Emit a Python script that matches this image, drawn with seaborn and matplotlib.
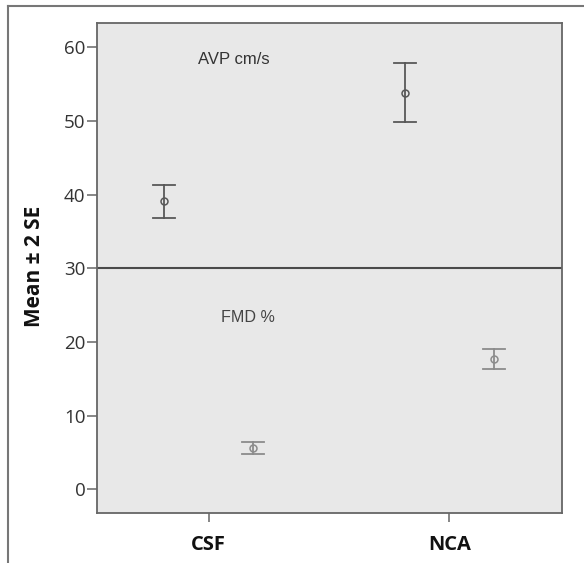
import pandas as pd
import numpy as np
import matplotlib
matplotlib.use('Agg')
import matplotlib.pyplot as plt
from matplotlib.lines import Line2D
import seaborn as sns

# Values (mean and mean +/- 2 SE)
groups = ['CSF', 'NCA']
measures = ['AVP', 'FMD']
avp_mean = [39.1, 53.8]
avp_low = [36.9, 49.8]
avp_high = [41.3, 57.9]
fmd_mean = [5.6, 17.7]
fmd_low = [4.75, 16.3]
fmd_high = [6.4, 19.0]

# Long table: three rows per point, median = mean, min/max = error bar ends
rows = []
for name, lo, mid, hi in [('AVP', avp_low, avp_mean, avp_high),
                          ('FMD', fmd_low, fmd_mean, fmd_high)]:
    for g, a, b, c in zip(groups, lo, mid, hi):
        for v in (a, b, c):
            rows.append({'group': g, 'measure': name, 'value': v})
df = pd.DataFrame(rows)

plt.rcParams['font.family'] = ['Open Sans', 'DejaVu Sans']

fig = plt.figure(figsize=(5.84, 5.63), dpi=100)
ax = fig.add_axes([97 / 584, 1 - 513 / 563, 465 / 584, 490 / 563])
ax.set_facecolor('#e8e8e8')

ax.axhline(30, color='#4a4a4a', lw=1.5, zorder=1)

sns.pointplot(data=df, x='group', y='value', hue='measure',
              order=groups, hue_order=measures,
              estimator='median', errorbar=lambda v: (v.min(), v.max()),
              dodge=0.37, palette={'AVP': '#585858', 'FMD': '#8c8c8c'},
              markers='o', linestyle='none', capsize=0.09,
              err_kws={'linewidth': 1.3}, markersize=5, markeredgewidth=1.1,
              legend=False, ax=ax)

# hollow circles like the original
for line in ax.lines:
    if line.get_marker() == 'o':
        line.set_markerfacecolor('none')

ax.text(0.217, 58.4, 'AVP cm/s', transform=ax.get_yaxis_transform(),
        fontsize=12, color='#333333', va='center', family='Liberation Sans')
ax.text(0.267, 23.3, 'FMD %', transform=ax.get_yaxis_transform(),
        fontsize=11.6, color='#444444', va='center', family='Liberation Sans')

ax.set_xlim(-0.463, 1.467)
ax.set_ylim(-3.2, 63.3)
ax.set_yticks([0, 10, 20, 30, 40, 50, 60])
ax.set_xlabel('')
ax.set_ylabel('Mean ± 2 SE', fontsize=15, fontweight='bold', color='#111111')
ax.yaxis.set_label_coords(-0.112, 0.504)

for s in ax.spines.values():
    s.set_color('#666666')
    s.set_linewidth(1.3)
ax.tick_params(axis='y', length=7.2, width=1.1, color='#666666', pad=1,
               labelsize=13.5, labelcolor='#333333')
ax.tick_params(axis='x', length=6.5, width=1.1, color='#666666', pad=9,
               labelsize=14.5, labelcolor='#111111')
for lab in ax.get_xticklabels():
    lab.set_fontweight('bold')

# outer frame (top and left edges)
fig.add_artist(Line2D([8 / 584, 583 / 584], [1 - 6 / 563, 1 - 6 / 563],
                      color='#777777', lw=1.5, transform=fig.transFigure))
fig.add_artist(Line2D([8 / 584, 8 / 584], [1 - 6 / 563, 0],
                      color='#777777', lw=1.5, transform=fig.transFigure))

fig.savefig('out.png', dpi=100)
